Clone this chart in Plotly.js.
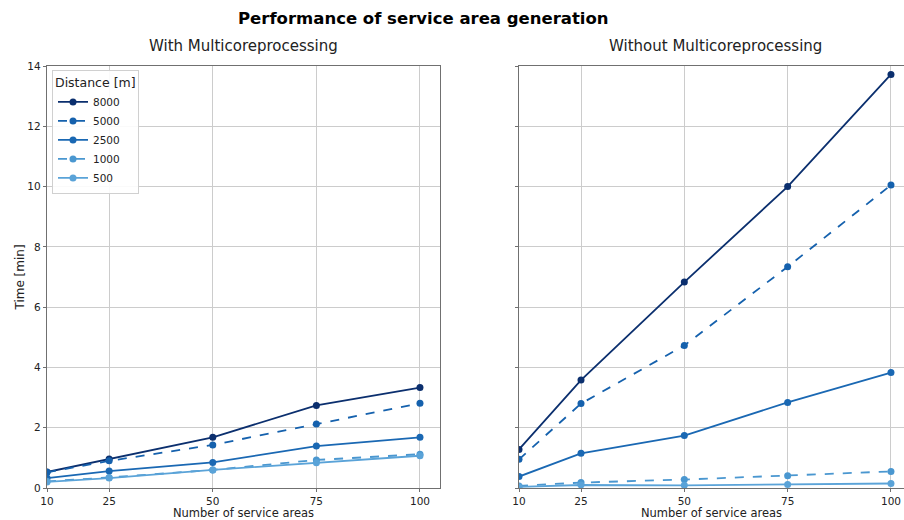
<!DOCTYPE html>
<html>
<head>
<meta charset="utf-8">
<script src="https://cdn.plot.ly/plotly-3.0.1.min.js"></script>
<style>html,body{margin:0;padding:0;background:#fff}</style>
</head>
<body>
<div id="chart" style="width:904px;height:520px"></div>
<script>
const serviceAreas = [10, 25, 50, 75, 100];
const distances = ["8000", "5000", "2500", "1000", "500"];

// With multicore processing (minutes)
const withMC_8000 = [0.53, 0.96, 1.68, 2.74, 3.33];
const withMC_5000 = [0.52, 0.90, 1.43, 2.12, 2.81];
const withMC_2500 = [0.33, 0.56, 0.85, 1.39, 1.68];
const withMC_1000 = [0.22, 0.35, 0.60, 0.93, 1.12];
const withMC_500  = [0.20, 0.33, 0.60, 0.84, 1.07];

// Without multicore processing (minutes)
const withoutMC_8000 = [1.28, 3.58, 6.83, 10.0, 13.72];
const withoutMC_5000 = [0.95, 2.80, 4.73, 7.34, 10.05];
const withoutMC_2500 = [0.38, 1.15, 1.74, 2.84, 3.83];
const withoutMC_1000 = [0.07, 0.18, 0.28, 0.41, 0.55];
const withoutMC_500  = [0.04, 0.10, 0.09, 0.12, 0.15];

const colors = ["#0b2f6e", "#1561ad", "#1a68b3", "#4a97d0", "#5aa3d8"];
const dashes = ["solid", "dash", "solid", "dash", "solid"];

const withSeries = [withMC_8000, withMC_5000, withMC_2500, withMC_1000, withMC_500];
const withoutSeries = [withoutMC_8000, withoutMC_5000, withoutMC_2500, withoutMC_1000, withoutMC_500];

const traces = [];
distances.forEach((d, i) => {
  traces.push({
    x: serviceAreas, y: withSeries[i], name: d, type: "scatter", mode: "lines+markers",
    line: {color: colors[i], width: 1.8, dash: dashes[i]},
    marker: {color: colors[i], size: 7},
    xaxis: "x", yaxis: "y", legendgroup: d, showlegend: true
  });
});
distances.forEach((d, i) => {
  traces.push({
    x: serviceAreas, y: withoutSeries[i], name: d, type: "scatter", mode: "lines+markers",
    line: {color: colors[i], width: 1.8, dash: dashes[i]},
    marker: {color: colors[i], size: 7},
    xaxis: "x2", yaxis: "y2", legendgroup: d, showlegend: false
  });
});

const W = 904;
const FONT = "DejaVu Sans";
const axisCommon = {
  showgrid: true, gridcolor: "#cccccc", gridwidth: 1,
  showline: true, linecolor: "#707070", linewidth: 1.2, mirror: true,
  ticks: "outside", ticklen: 3, tickcolor: "#707070",
  tickfont: {family: FONT, size: 10.5, color: "#222"},
  zeroline: false, automargin: false
};
const xTitleFont = {family: FONT, size: 11.5, color: "#222"};

const layout = {
  width: 904, height: 520,
  margin: {l: 0, r: 0, t: 66, b: 32},
  paper_bgcolor: "#fff", plot_bgcolor: "#fff",
  font: {family: FONT, color: "#222"},
  showlegend: true,
  legend: {
    x: 52 / W, y: 0.99, xref: "paper", yref: "paper", xanchor: "left", yanchor: "top",
    bgcolor: "rgba(255,255,255,0.9)", bordercolor: "#d0d0d0", borderwidth: 1,
    title: {text: "Distance [m]", font: {family: FONT, size: 12.5, color: "#222"}},
    font: {family: FONT, size: 10.5, color: "#222"},
    tracegroupgap: 0, itemwidth: 30
  },
  xaxis: Object.assign({}, axisCommon, {
    domain: [47 / W, 440 / W], range: [10, 104.83],
    tickvals: serviceAreas, ticktext: serviceAreas.map(String),
    title: {text: "Number of service areas", font: xTitleFont, standoff: 4}
  }),
  yaxis: Object.assign({}, axisCommon, {
    domain: [0, 1], range: [0, 14], dtick: 2,
    title: {text: "Time [min]", font: {family: FONT, size: 12, color: "#222"}, standoff: 0}
  }),
  xaxis2: Object.assign({}, axisCommon, {
    domain: [519 / W, 1], range: [10, 103.15], anchor: "y2",
    tickvals: serviceAreas, ticktext: serviceAreas.map(String),
    title: {text: "Number of service areas", font: xTitleFont, standoff: 4}
  }),
  yaxis2: Object.assign({}, axisCommon, {
    domain: [0, 1], range: [0, 14], dtick: 2, anchor: "x2", showticklabels: false
  }),
  annotations: [
    {text: "<b>Performance of service area generation</b>", x: 423 / W, xanchor: "center",
     y: 1, yanchor: "middle", yshift: 48, xref: "paper", yref: "paper",
     showarrow: false, font: {family: FONT, size: 16.5, color: "#000"}},
    {text: "With Multicoreprocessing", x: 243 / W, xanchor: "center", xref: "paper", yref: "paper",
     y: 1, yanchor: "middle", yshift: 20,
     showarrow: false, font: {family: FONT, size: 15, color: "#222"}},
    {text: "Without Multicoreprocessing", x: 715 / W, xanchor: "center", xref: "paper", yref: "paper",
     y: 1, yanchor: "middle", yshift: 20,
     showarrow: false, font: {family: FONT, size: 15, color: "#222"}}
  ]
};

Plotly.newPlot("chart", traces, layout, {displayModeBar: false, staticPlot: true});
</script>
</body>
</html>
